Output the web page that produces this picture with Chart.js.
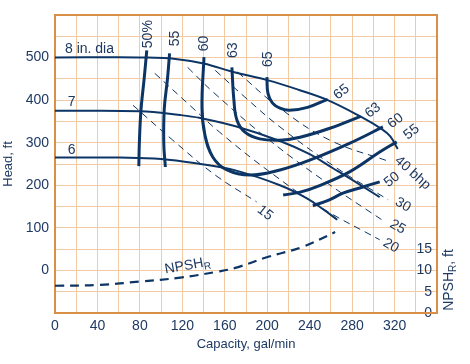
<!DOCTYPE html>
<html><head><meta charset="utf-8">
<script src="https://cdn.jsdelivr.net/npm/chart.js@4.4.0/dist/chart.umd.min.js"></script>
<style>html,body{margin:0;padding:0;background:#fff}#wrap{width:470px;height:364px}</style>
</head><body><div id="wrap"><canvas id="c" width="470" height="364"></canvas></div>
<script>
// ---------- DATA (capacity gal/min, head ft / NPSH ft) ----------
const capacityTicks = [0, 40, 80, 120, 160, 200, 240, 280, 320];
const headTicks = [0, 100, 200, 300, 400, 500];
const npshTicks = [0, 5, 10, 15];

const head8in = [[0,500],[60,501],[87,500],[110,498],[140,486],[168,466],[200,447],[230,424],[257,400],[289,360],[308,332],[316,315],[323,285]];
const head7in = [[0,375],[80,374],[118,365],[137,358],[171,338],[212,304],[240,273],[262,240],[285,205],[306,172]];
const head6in = [[0,265],[61,265],[100,262],[137,250],[170,235],[212,200],[237,170],[252,145],[266,119]];

const eff50Left  = [[86.5,517],[84,450],[81,376],[79.5,300],[79,245]];
const eff55Left  = [[108,510],[106,450],[103,380],[102.5,300],[104,243]];
const eff60      = [[140.4,501],[138.5,383],[141.3,318],[148.8,266],[162,236],[183.7,224],[212,236],[240,259],[278,299],[309,337]];
const eff63      = [[166.7,477],[168.6,400],[171.5,353],[179,325],[193,309],[212,306],[231,313],[259,334],[288,362]];
const eff65      = [[199.7,454],[200.7,416],[205,393],[212,381],[221,376],[238,383],[257,402]];
const eff55Right = [[215,177],[231,184],[250,200],[278,232],[306,278],[322,302]];
const eff50Right = [[243,152],[258,165],[272,182],[290,196],[306,208]];

const bhp15 = [[73.5,388],[111,306],[151,224],[190,161]];
const bhp20 = [[94,463],[127,388],[155,325],[200,236],[250,149],[306,72]];
const bhp25 = [[125,477],[149,419],[202,306],[259,201],[311,114]];
const bhp30 = [[151,470],[179,407],[212,337],[264,243],[314,166]];
const bhp40 = [[172,466],[212,381],[259,306],[316,255]];

const npshR = [[0,6.4],[42,6.6],[80,7.4],[118,8.3],[153,9.7],[170,10.6],[201,13.2],[233,15.5],[264,19]];

// ---------- STYLE ----------
const NAVY = '#0c3566';
const TEXT = '#1f3a62';
const GRID = '#f2cba3';
const FRAME = '#d98f45';
const FONT = '"Liberation Sans", Arial, sans-serif';

const pts = a => a.map(p => ({x: p[0], y: p[1]}));
function effSet(d){ return {data: pts(d), borderColor: NAVY, borderWidth: 3, pointRadius: 0, tension: 0.4, fill: false}; }
function headSet(d){ return {data: pts(d), borderColor: NAVY, borderWidth: 2, pointRadius: 0, tension: 0.4, fill: false}; }
function bhpSet(d){ return {data: pts(d), borderColor: NAVY, borderWidth: 1, borderDash: [7,5], pointRadius: 0, tension: 0.4, fill: false}; }

// text annotations (anchor in data coordinates)
const labels = [
  {t:'8 in. dia', x:9.4, y:520, r:0, a:'left'},
  {t:'7', x:12, y:395, r:0, a:'left'},
  {t:'6', x:12, y:283, r:0, a:'left'},
  {t:'50%', x:87.6, y:555, r:-90},
  {t:'55', x:113, y:545, r:-90},
  {t:'60', x:141, y:533, r:-90},
  {t:'63', x:168, y:517, r:-90},
  {t:'65', x:200.7, y:496, r:-90},
  {t:'65', x:270, y:419, r:-38},
  {t:'63', x:299.6, y:376, r:-38},
  {t:'60', x:321, y:351, r:-38},
  {t:'55', x:336, y:325, r:-38},
  {t:'50', x:317.5, y:213, r:-38},
  {t:'15', x:198, y:135, r:38},
  {t:'20', x:316.5, y:58, r:30},
  {t:'25', x:323, y:102, r:30},
  {t:'30', x:328, y:154, r:30},
  {t:'40 bhp', x:337, y:229, r:42}
];

const annot = {
  id: 'annot',
  beforeDatasetsDraw(chart) {
    const {ctx, chartArea: ca} = chart;
    ctx.save();
    ctx.strokeStyle = FRAME; ctx.lineWidth = 2;
    ctx.strokeRect(ca.left, ca.top, ca.right - ca.left, ca.bottom - ca.top);
    ctx.restore();
  },
  afterDatasetsDraw(chart) {
    const {ctx, scales} = chart;
    const xs = scales.x, ys = scales.y;
    ctx.save();
    ctx.fillStyle = TEXT;
    ctx.textBaseline = 'middle';
    ctx.font = '14px ' + FONT;
    labels.forEach(l => {
      const px = xs.getPixelForValue(l.x), py = ys.getPixelForValue(l.y);
      ctx.save();
      ctx.translate(px, py);
      ctx.rotate(l.r * Math.PI / 180);
      ctx.textAlign = l.a || 'center';
      ctx.fillText(l.t, 0, 0);
      ctx.restore();
    });
    // NPSH_R label on curve
    const sub = (txt, subTxt, after, x, y, rot, size, align) => {
      ctx.save();
      ctx.translate(x, y);
      ctx.rotate(rot * Math.PI / 180);
      ctx.font = size + 'px ' + FONT;
      const w1 = ctx.measureText(txt).width;
      ctx.font = Math.round(size * 0.72) + 'px ' + FONT;
      const w2 = ctx.measureText(subTxt).width;
      ctx.font = size + 'px ' + FONT;
      const w3 = after ? ctx.measureText(after).width : 0;
      const total = w1 + w2 + w3;
      let sx = align === 'center' ? -total / 2 : 0;
      ctx.textAlign = 'left';
      ctx.fillText(txt, sx, 0);
      ctx.font = Math.round(size * 0.72) + 'px ' + FONT;
      ctx.fillText(subTxt, sx + w1, size * 0.3);
      if (after) { ctx.font = size + 'px ' + FONT; ctx.fillText(after, sx + w1 + w2, 0); }
      ctx.restore();
    };
    sub('NPSH', 'R', '', xs.getPixelForValue(125), ys.getPixelForValue(11), -10, 14, 'center');
    sub('NPSH', 'R', ', ft', 449, 280, -90, 14, 'center');
    ctx.restore();
  }
};

new Chart(document.getElementById('c'), {
  type: 'line',
  data: {
    datasets: [
      headSet(head8in), headSet(head7in), headSet(head6in),
      effSet(eff50Left), effSet(eff55Left), effSet(eff60), effSet(eff63), effSet(eff65),
      effSet(eff55Right), effSet(eff50Right),
      bhpSet(bhp15), bhpSet(bhp20), bhpSet(bhp25), bhpSet(bhp30), bhpSet(bhp40),
      {data: pts(npshR), yAxisID: 'y2', borderColor: NAVY, borderWidth: 2.2, borderDash: [9,6], pointRadius: 0, tension: 0.4, fill: false}
    ]
  },
  options: {
    responsive: false,
    devicePixelRatio: 1,
    animation: false,
    layout: {padding: {top: 15, left: 0, right: 0, bottom: 0}},
    plugins: {legend: {display: false}, tooltip: {enabled: false}},
    scales: {
      x: {
        type: 'linear', min: 0, max: 360,
        afterBuildTicks: s => { const t = []; for (let v = 0; v <= 360; v += 20) t.push({value: v}); s.ticks = t; },
        afterFit: s => { s.height = 51; },
        grid: {color: GRID, drawTicks: false},
        border: {display: false},
        ticks: {
          autoSkip: false, maxRotation: 0, padding: 5, color: TEXT, font: {family: FONT, size: 14},
          callback: v => capacityTicks.includes(v) ? String(v) : ''
        },
        title: {display: true, text: 'Capacity, gal/min', color: TEXT, font: {family: FONT, size: 13}, padding: {top: 0, bottom: 12}}
      },
      y: {
        type: 'linear', min: -100, max: 600,
        afterBuildTicks: s => { const t = []; for (let v = -100; v <= 600; v += 50) t.push({value: v}); s.ticks = t; },
        afterFit: s => { s.width = 55; },
        grid: {color: GRID, drawTicks: false},
        border: {display: false},
        ticks: {
          autoSkip: false, padding: 6, color: TEXT, font: {family: FONT, size: 14},
          callback: v => headTicks.includes(v) ? String(v) : ''
        },
        title: {display: true, text: 'Head, ft', color: TEXT, font: {family: FONT, size: 13}, padding: {top: 1, bottom: 0}}
      },
      y2: {
        type: 'linear', position: 'right', min: 0, max: 70,
        afterBuildTicks: s => { s.ticks = npshTicks.map(v => ({value: v})); },
        afterFit: s => { s.width = 33; },
        grid: {display: false, drawTicks: false},
        border: {display: false},
        ticks: {mirror: true, padding: -5, color: TEXT, font: {family: FONT, size: 14}, callback: v => String(v)}
      }
    }
  },
  plugins: [annot]
});
</script></body></html>
